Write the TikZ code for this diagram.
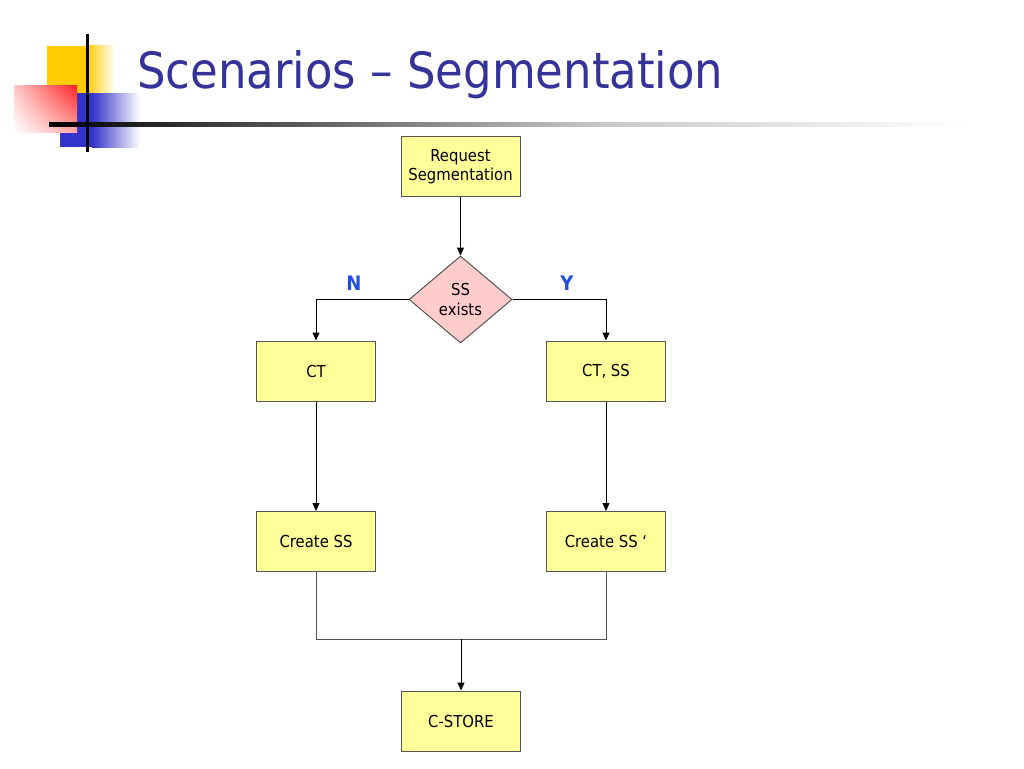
\documentclass[tikz,border=0pt]{standalone}
\usepackage{fontspec}
\setmainfont{DejaVu Sans Condensed}
\usetikzlibrary{shapes.geometric,arrows.meta,shadings}
\definecolor{titleblue}{HTML}{333399}
\definecolor{boxfill}{HTML}{FFFF99}
\definecolor{boxline}{HTML}{555555}
\definecolor{pinkfill}{HTML}{FFCCCC}
\definecolor{labblue}{HTML}{1F4FE0}
\definecolor{decoyellow}{HTML}{FFCC00}
\definecolor{decoblue}{HTML}{3333CC}
\definecolor{decored}{HTML}{FF2020}
\definecolor{rulegray}{HTML}{C8C8C8}
\tikzset{
  procbox/.style={draw=boxline, line width=1pt, fill=boxfill, minimum width=119pt, minimum height=60pt, inner sep=0pt, align=center, font=\fontsize{16.5}{19.5}\selectfont},
  decision/.style={diamond, draw=boxline, line width=1pt, fill=pinkfill, minimum width=103pt, minimum height=87pt, inner sep=0pt, align=center, font=\fontsize{16.5}{20}\selectfont},
  flow/.style={draw=black, line width=1pt, -{Triangle[length=8pt,width=7pt]}},
  merge/.style={draw=boxline, line width=1pt},
  branchlab/.style={text=labblue, font=\bfseries\fontsize{20}{22}\selectfont},
}
\begin{document}
\begin{tikzpicture}[x=1pt,y=-1pt]
\useasboundingbox (0,0) rectangle (1024,768);
\fill[white] (0,0) rectangle (1024,768);
% decoration
\shade[left color=decoyellow, right color=decoyellow!0] (87,46) rectangle (115,110);
\fill[decoyellow] (47,46) rectangle (87,110);
\shade[left color=decoblue, right color=decoblue!0] (92,93) rectangle (140,147);
\fill[decoblue] (60,93) rectangle (92,147);
\shade[upper right=decored, upper left=decored!25, lower right=decored!40, lower left=white] (14,85) rectangle (77,132);
\shade[left color=black, right color=rulegray] (49,122) rectangle (600,126.5);
\shade[left color=rulegray, right color=white] (600,122) rectangle (970,126.5);
\fill[black] (86,34) rectangle (89,152);
% title
\node[anchor=base west, text=titleblue, font=\fontsize{50}{56}\selectfont, inner sep=0pt] (title) at (137,88) {Scenarios – Segmentation};
% nodes
\node[procbox] (req) at (460.5,166.5) {Request\\Segmentation};
\node[decision] (ss) at (460.5,299.5) {SS\\exists};
\node[procbox] (ct) at (316,371) {CT};
\node[procbox] (ctss) at (606,371) {CT, SS};
\node[procbox] (cs) at (316,541.5) {Create SS};
\node[procbox] (csp) at (606,541.5) {Create SS `};
\node[procbox] (cstore) at (461,721) {C-STORE};
\coordinate (mergeL) at (316,639);
\coordinate (mergeR) at (606,639);
\coordinate (mergeC) at (461,639);
% labels
\node[branchlab] (nlab) at (354,283) {N};
\node[branchlab] (ylab) at (567,283) {Y};
% connectors
\draw[flow] (req) -- (ss);
\draw[flow] (ss.west) -| (ct.north);
\draw[flow] (ss.east) -| (ctss.north);
\draw[flow] (ct) -- (cs);
\draw[flow] (ctss) -- (csp);
\draw[merge] (cs.south) -- (mergeL) -- (mergeR) -- (csp.south);
\draw[flow] (mergeC) -- (cstore.north);
\end{tikzpicture}
\end{document}
